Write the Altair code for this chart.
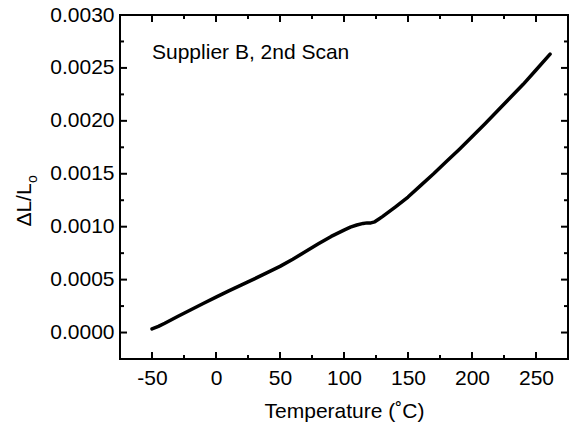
import altair as alt
import pandas as pd

# Dilatometer scan: relative length change vs temperature
temperature = [-50, -45, -40, -30, -20, -10, 0, 10, 20, 30, 40, 50, 60, 70, 80, 90,
               100, 105, 110, 115, 118, 121, 124, 127, 130, 135, 140, 150, 160, 170,
               180, 190, 200, 210, 220, 230, 240, 250, 261]
delta_l = [0.000035, 0.000058, 0.000088, 0.000152, 0.000213, 0.000274, 0.000335,
           0.000393, 0.000450, 0.000507, 0.000566, 0.000625, 0.000693, 0.000765,
           0.000838, 0.000908, 0.000968, 0.000996, 0.001016, 0.001031, 0.001036,
           0.001036, 0.001046, 0.001070, 0.001095, 0.001140, 0.001185, 0.001280,
           0.001390, 0.001500, 0.001615, 0.001730, 0.001850, 0.001970, 0.002095,
           0.002220, 0.002345, 0.002480, 0.002630]

x_major = [-50, 0, 50, 100, 150, 200, 250]
x_minor = [-25, 25, 75, 125, 175, 225]
y_major = [0.0, 0.0005, 0.0010, 0.0015, 0.0020, 0.0025, 0.0030]
y_minor = [0.00025, 0.00075, 0.00125, 0.00175, 0.00225, 0.00275]

annotation = "Supplier B, 2nd Scan"
x_title = "Temperature (˚C)"
y_title_main = "ΔL/L"
y_title_sub = "o"

W, H = 448, 344
FONT = "Liberation Sans"
MAJOR, MINOR = 7, 4

xs = alt.Scale(domain=[-75, 275], nice=False, zero=False)
ys = alt.Scale(domain=[-0.00025, 0.0030], nice=False, zero=False)

x_axis = alt.Axis(values=x_major, labelExpr="datum.value + ''", title=x_title,
                  ticks=False, domain=False, grid=False, labelFont=FONT,
                  labelFontSize=21, labelColor="black", labelPadding=8,
                  titleFont=FONT, titleFontSize=21, titleFontWeight="normal",
                  titleColor="black", titlePadding=12)
y_axis = alt.Axis(values=y_major, format=".4f", title=None, ticks=False,
                  domain=False, grid=False, labelFont=FONT, labelFontSize=21,
                  labelColor="black", labelPadding=6)

x_enc = alt.X("T:Q", scale=xs, axis=x_axis)
y_enc = alt.Y("dl:Q", scale=ys, axis=y_axis)

df = pd.DataFrame({"T": temperature, "dl": delta_l})

curve = alt.Chart(df).mark_line(color="black", strokeWidth=3.5, strokeCap="round",
                                strokeJoin="round").encode(x=x_enc, y=y_enc)


def x_ticks(values, length):
    d = pd.DataFrame({"T": values})
    bottom = alt.Chart(d).mark_rule(color="black", strokeWidth=2).encode(
        x=x_enc, y=alt.value(H), y2=alt.value(H - length))
    top = alt.Chart(d).mark_rule(color="black", strokeWidth=2).encode(
        x=x_enc, y=alt.value(0), y2=alt.value(length))
    return [bottom, top]


def y_ticks(values, length):
    d = pd.DataFrame({"dl": values})
    left = alt.Chart(d).mark_rule(color="black", strokeWidth=2).encode(
        y=y_enc, x=alt.value(0), x2=alt.value(length))
    right = alt.Chart(d).mark_rule(color="black", strokeWidth=2).encode(
        y=y_enc, x=alt.value(W), x2=alt.value(W - length))
    return [left, right]


def label(text, x, y, size, angle=0, align="center"):
    return alt.Chart(pd.DataFrame({"label": [text]})).mark_text(
        font=FONT, fontSize=size, color="black", angle=angle, align=align,
        baseline="middle").encode(text="label:N", x=alt.value(x), y=alt.value(y))


layers = [curve]
layers += x_ticks(x_major, MAJOR) + x_ticks(x_minor, MINOR)
layers += y_ticks(y_major, MAJOR) + y_ticks(y_minor, MINOR)
layers += [
    label(annotation, 32, 38, 21, align="left"),
    label(y_title_main, -95, 190, 21, angle=270),
    label(y_title_sub, -87, 164, 14, angle=270),
]

chart = alt.layer(*layers).properties(
    width=W, height=H,
    padding={"left": 120, "top": 15, "right": 2, "bottom": 65},
    autosize=alt.AutoSizeParams(type="none"),
    background="white",
).configure_view(stroke="black", strokeWidth=2)

chart.save("out.html", embed_options={"renderer": "svg", "actions": False})
